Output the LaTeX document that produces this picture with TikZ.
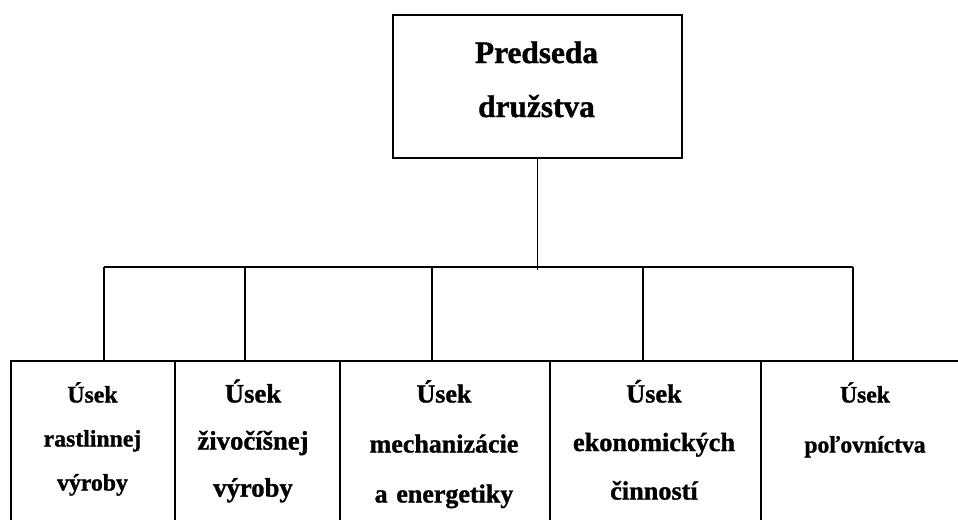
\documentclass[tikz,border=0pt]{standalone}
\usepackage{fontspec}
\setmainfont{Liberation Serif}[BoldFeatures={FakeBold=1.2}]
\begin{document}
\begin{tikzpicture}[x=0.75pt,y=-0.75pt,line width=1.2pt,
	box/.style={draw,inner sep=0pt,anchor=north west},
	lbl/.style={anchor=base,inner sep=0pt,align=center,text width=200pt}]
	\useasboundingbox (0,0) rectangle (958,519);
	\clip (0,0) rectangle (958,519);
	% predseda
	\node[box,minimum width=216.75pt,minimum height=107.25pt] (pd) at (392,14) {};
	\node[lbl,font=\bfseries\fontsize{23.5}{40.5}\selectfont] (pdt) at (536.5,63) {Predseda\\družstva};
	% useky
	\foreach \n/\xa/\xb in {1/10/174,2/174/339,3/339/549,4/549/760,5/760/975}
	\node[box,minimum width={(\xb-\xa)*0.75pt},minimum height=123.75pt] (u\n) at (\xa,360) {};
	\foreach \n/\x/\fs/\sk/\texn in {1/92.5/17.8/33/{Úsek\\rastlinnej\\výroby},
	2/253/20/35.3/{Úsek\\živočíšnej\\výroby},
	3/444/19.5/37.5/{Úsek\\mechanizácie\\a energetiky},
	4/654/19.7/36.4/{Úsek\\ekonomických\\činností},
	5/865/17.7/37.5/{Úsek\\poľovníctva}}
	\node[lbl,font=\bfseries\fontsize{\fs}{\sk}\selectfont] (t\n) at (\x,402.5) {\texn};
	% spoje
	\coordinate (stem) at (537,270);
	\foreach \n/\x in {1/104,2/245,3/432,4/643,5/853}
	\coordinate (b\n) at (\x,267);
	\draw (pd.south) -- (pd.south |- stem);
	\draw (b1) -- (b5);
	\foreach \n in {1,...,5}
	\draw (b\n) -- (b\n |- u\n.north);
\end{tikzpicture}
\end{document}
